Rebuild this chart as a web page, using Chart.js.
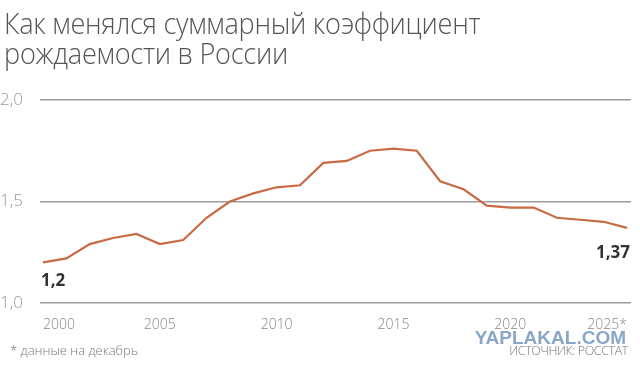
<!DOCTYPE html>
<html lang="ru">
<head>
<meta charset="utf-8">
<script src="https://cdn.jsdelivr.net/npm/chart.js@4.4.1/dist/chart.umd.min.js"></script>
<style>
  html, body { margin: 0; padding: 0; background: #fff; }
  #wrap { position: relative; width: 640px; height: 368px; overflow: hidden; font-family: 'Open Sans', sans-serif; }
  #chart { position: absolute; left: 0; top: 0; }
  .titulo { position: absolute; left: 4px; top: 8px; font-weight: 300; font-size: 30px; line-height: 30px; color: #555; white-space: nowrap; transform-origin: 0 0; transform: scaleX(0.905); letter-spacing: -0.3px; }
  .nota { position: absolute; left: 10px; top: 341px; font-size: 13px; font-weight: 300; color: #777; }
  .marca { position: absolute; right: 14px; top: 327px; font-family: 'Liberation Sans', sans-serif; font-weight: bold; font-size: 19px; color: #8aa6c8; letter-spacing: 0; }
  .fonte { position: absolute; right: 12px; top: 342px; font-size: 12.5px; font-weight: 300; color: #777; letter-spacing: -0.4px; }
</style>
</head>
<body>
<div id="wrap">
  <canvas id="chart" width="640" height="368"></canvas>
  <div class="titulo">Как менялся суммарный коэффициент<br>рождаемости в России</div>
  <div class="marca">YAPLAKAL.COM</div>
  <div class="nota">* данные на декабрь</div>
  <div class="fonte">ИСТОЧНИК: РОССТАТ</div>
</div>
<script>
// суммарный коэффициент рождаемости, 2000–2025
const ANOS = [2000, 2001, 2002, 2003, 2004, 2005, 2006, 2007, 2008, 2009, 2010, 2011, 2012,
  2013, 2014, 2015, 2016, 2017, 2018, 2019, 2020, 2021, 2022, 2023, 2024, 2025];
const VALORES = [1.20, 1.22, 1.29, 1.32, 1.34, 1.29, 1.31, 1.42, 1.50, 1.54, 1.57, 1.58, 1.69,
  1.70, 1.75, 1.76, 1.75, 1.60, 1.56, 1.48, 1.47, 1.47, 1.42, 1.41, 1.40, 1.37];
const TICKS_X = [2000, 2005, 2010, 2015, 2020, 2025];
const TICKS_Y = [1.0, 1.5, 2.0];

const COR_LINHA = '#c86a43';
const COR_GRADE = '#9c9c9c';

const fmt = (v) => v.toFixed(v === 1.37 ? 2 : 1).replace('.', ',');

// подписи первого и последнего значения
const rotulos = {
  id: 'rotulos',
  afterDatasetsDraw(chart) {
    const { ctx, scales: { x, y } } = chart;
    ctx.save();
    ctx.fillStyle = '#333';
    ctx.font = "bold 17px 'Open Sans', sans-serif";
    ctx.textBaseline = 'alphabetic';
    const i0 = 0, iN = VALORES.length - 1;
    ctx.textAlign = 'left';
    ctx.fillText(fmt(VALORES[i0]), x.getPixelForValue(ANOS[i0]) - 2, y.getPixelForValue(VALORES[i0]) + 24);
    ctx.textAlign = 'right';
    ctx.fillText(fmt(VALORES[iN]), x.getPixelForValue(ANOS[iN]) + 3, y.getPixelForValue(VALORES[iN]) + 30);
    ctx.restore();
  },
};

new Chart(document.getElementById('chart'), {
  type: 'line',
  data: {
    datasets: [{
      data: ANOS.map((a, i) => ({ x: a, y: VALORES[i] })),
      borderColor: COR_LINHA,
      borderWidth: 2.2,
      pointRadius: 0,
      tension: 0,
      fill: false,
    }],
  },
  options: {
    responsive: false,
    animation: false,
    layout: { padding: { top: 100, right: 9, left: 0, bottom: 0 } },
    plugins: { legend: { display: false }, tooltip: { enabled: false } },
    scales: {
      x: {
        type: 'linear',
        min: 1999.87,
        max: 2025.17,
        afterFit: (s) => { s.height = 65; },
        afterBuildTicks: (s) => { s.ticks = TICKS_X.map((v) => ({ value: v })); },
        grid: { display: false },
        border: { display: false },
        ticks: {
          align: 'inner',
          padding: 6,
          color: '#888',
          font: { family: "'Open Sans', sans-serif", size: 14, weight: 300 },
          callback: (v) => (v === 2025 ? '2025*' : String(v)),
        },
      },
      y: {
        min: 1.0,
        max: 2.0,
        afterFit: (s) => { s.width = 40; },
        afterBuildTicks: (s) => { s.ticks = TICKS_Y.map((v) => ({ value: v })); },
        grid: { color: COR_GRADE, lineWidth: 1.5, drawTicks: false },
        border: { display: false },
        ticks: {
          crossAlign: 'far',
          padding: 6,
          color: '#999',
          font: { family: "'Open Sans', sans-serif", size: 17, weight: 300 },
          callback: (v) => v.toFixed(1).replace('.', ','),
        },
      },
    },
  },
  plugins: [rotulos],
});
</script>
</body>
</html>
